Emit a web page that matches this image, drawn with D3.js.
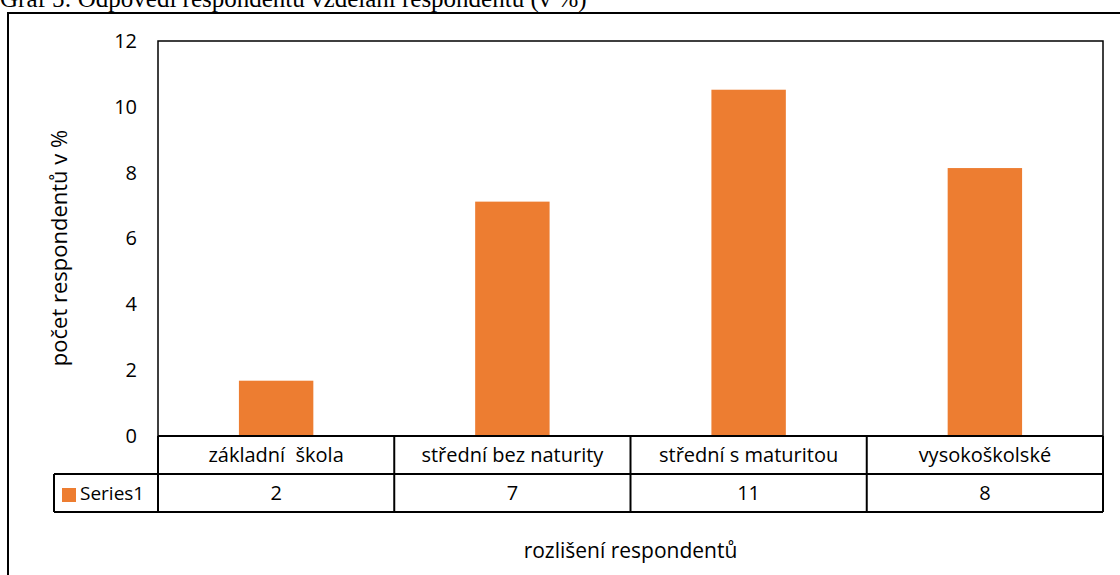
<!DOCTYPE html>
<html>
<head>
<meta charset="utf-8">
<script src="https://cdn.jsdelivr.net/npm/d3@7"></script>
<style>
  body { margin: 0; background: #fff; }
  svg text { font-family: 'Open Sans', 'Noto Sans', sans-serif; fill: #000; }
</style>
</head>
<body>
<div id="container"></div>
<script>
const width = 1120;
const height = 575;

// data
const categories = ['základní  škola', 'střední bez naturity', 'střední s maturitou', 'vysokoškolské'];
const values = [1.68, 7.12, 10.52, 8.14];
const tableValues = ['2', '7', '11', '8'];
const yTicks = [0, 2, 4, 6, 8, 10, 12];
const seriesName = 'Series1';

const plot = { left: 158, right: 1103, top: 41, bottom: 436 };
const rowH = 38;
const orange = '#ed7d31';

const svg = d3.select('#container')
    .append('svg')
    .attr('width', width)
    .attr('height', height);

// title (cut at the top edge as in the source)
svg.append('text')
    .attr('x', 0)
    .attr('y', 7)
    .style('font-family', "'Liberation Serif', 'Times New Roman', serif")
    .style('font-size', '25px')
    .text('Graf 5: Odpovědi respondentů vzdělání respondentů (v %)');

// outer frame
svg.append('path')
    .attr('d', `M8,${height} V13 H${width}`)
    .attr('fill', 'none')
    .attr('stroke', '#000')
    .attr('stroke-width', 2);

const x = d3.scaleBand()
    .domain(categories)
    .range([plot.left, plot.right])
    .paddingInner(0)
    .paddingOuter(0);

const y = d3.scaleLinear()
    .domain([0, 12])
    .range([plot.bottom, plot.top]);

const barW = x.bandwidth() * 0.315;

// bars
svg.append('g')
    .selectAll('rect')
    .data(values)
    .enter().append('rect')
    .attr('x', (d, i) => x(categories[i]) + x.bandwidth() / 2 - barW / 2)
    .attr('y', d => y(d))
    .attr('width', barW)
    .attr('height', d => y(0) - y(d))
    .attr('fill', orange);

// plot border
svg.append('path')
    .attr('d', `M${plot.left},${plot.bottom} V${plot.top} H${plot.right} V${plot.bottom}`)
    .attr('fill', 'none')
    .attr('stroke', '#000')
    .attr('stroke-width', 1.5);

// y axis labels
const yAxis = d3.axisLeft(y).tickValues(yTicks).tickSize(0).tickPadding(21);
const yg = svg.append('g')
    .attr('transform', `translate(${plot.left},0)`)
    .call(yAxis);
yg.select('.domain').remove();
yg.selectAll('text')
    .style('font-family', "'Open Sans', 'Noto Sans', sans-serif")
    .style('font-size', '20px');

// data table
const table = svg.append('g');
const tStroke = 2;
const tableLeft = 54;
const r1 = plot.bottom, r2 = plot.bottom + rowH, r3 = plot.bottom + rowH * 2;

table.append('line')
    .attr('x1', plot.left).attr('x2', plot.right)
    .attr('y1', r1).attr('y2', r1)
    .attr('stroke', '#000').attr('stroke-width', tStroke);
table.append('line')
    .attr('x1', tableLeft).attr('x2', plot.right)
    .attr('y1', r2).attr('y2', r2)
    .attr('stroke', '#000').attr('stroke-width', tStroke);
table.append('line')
    .attr('x1', tableLeft).attr('x2', plot.right)
    .attr('y1', r3).attr('y2', r3)
    .attr('stroke', '#000').attr('stroke-width', tStroke);
table.append('line')
    .attr('x1', tableLeft).attr('x2', tableLeft)
    .attr('y1', r2).attr('y2', r3)
    .attr('stroke', '#000').attr('stroke-width', tStroke);

const edges = categories.map(c => x(c)).concat([plot.right]);
table.selectAll('.vline')
    .data(edges)
    .enter().append('line')
    .attr('class', 'vline')
    .attr('x1', d => d).attr('x2', d => d)
    .attr('y1', r1).attr('y2', r3)
    .attr('stroke', '#000').attr('stroke-width', tStroke);

table.selectAll('.cat')
    .data(categories)
    .enter().append('text')
    .attr('class', 'cat')
    .attr('x', d => x(d) + x.bandwidth() / 2)
    .attr('y', r1 + rowH / 2 + 7)
    .attr('text-anchor', 'middle')
    .style('font-size', '20px')
    .style('white-space', 'pre')
    .text(d => d);

table.selectAll('.val')
    .data(tableValues)
    .enter().append('text')
    .attr('class', 'val')
    .attr('x', (d, i) => x(categories[i]) + x.bandwidth() / 2)
    .attr('y', r2 + rowH / 2 + 7)
    .attr('text-anchor', 'middle')
    .style('font-size', '20px')
    .text(d => d);

// legend key in the table
table.append('rect')
    .attr('x', 62)
    .attr('y', r2 + 14)
    .attr('width', 14)
    .attr('height', 14)
    .attr('fill', orange);
table.append('text')
    .attr('x', 80)
    .attr('y', r2 + rowH / 2 + 7)
    .style('font-size', '19px')
    .text(seriesName);

// axis titles
svg.append('text')
    .attr('x', (plot.left + plot.right) / 2)
    .attr('y', 558)
    .attr('text-anchor', 'middle')
    .style('font-size', '21px')
    .text('rozlišení respondentů');

svg.append('text')
    .attr('transform', 'translate(67,248) rotate(-90)')
    .attr('text-anchor', 'middle')
    .style('font-size', '22px')
    .text('počet respondentů v %');
</script>
</body>
</html>
